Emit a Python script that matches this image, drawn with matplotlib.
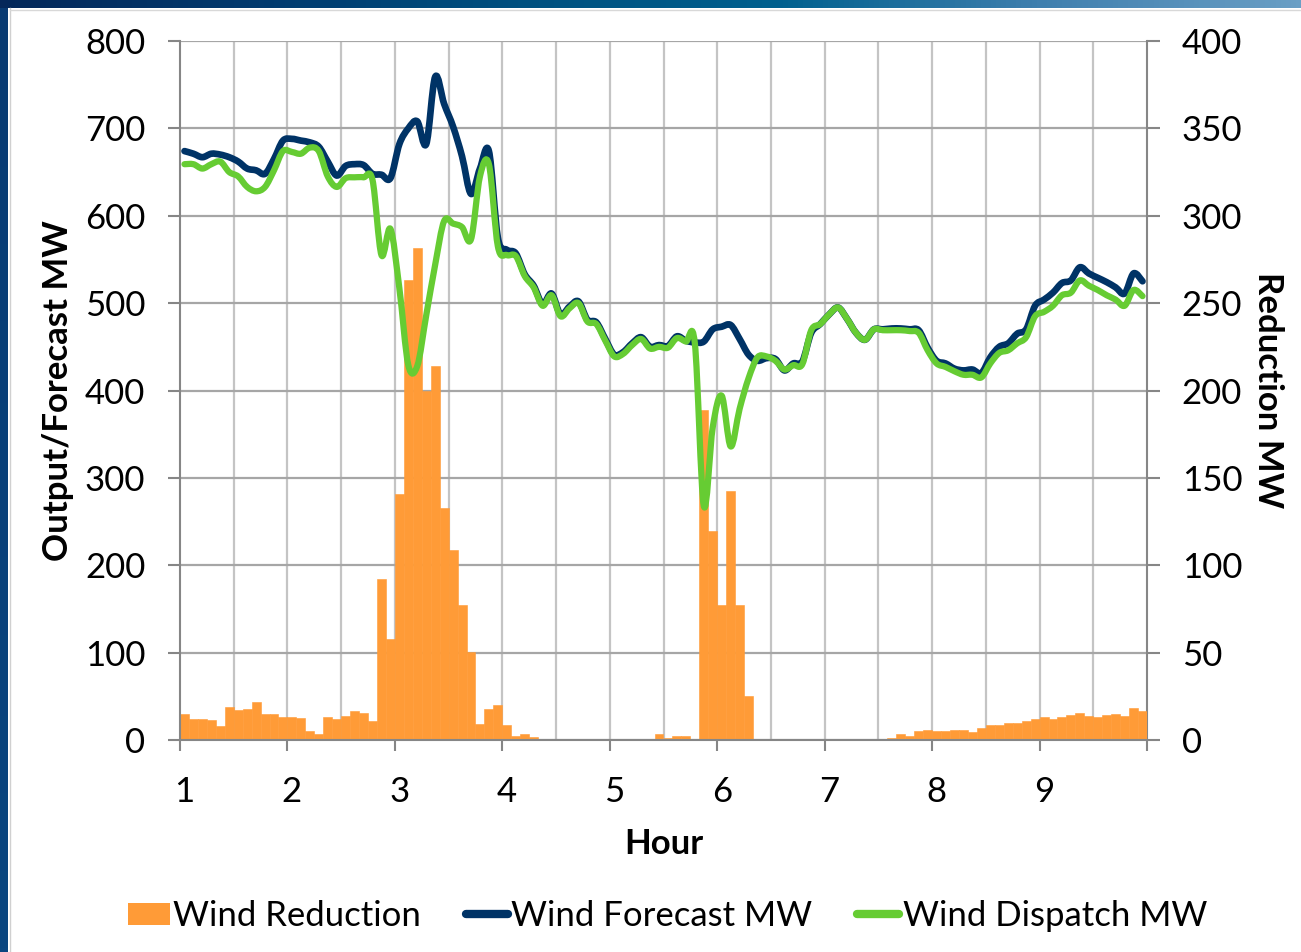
import numpy as np
import matplotlib
matplotlib.use("Agg")
import matplotlib.pyplot as plt
from matplotlib.patches import Patch, PathPatch
from matplotlib.path import Path
from matplotlib.lines import Line2D
from matplotlib.colors import LinearSegmentedColormap

plt.rcParams['font.family'] = ['Lato', 'DejaVu Sans']

# ---------------- data (5-minute intervals, hours 1..10) ----------------
hour_labels = ['1', '2', '3', '4', '5', '6', '7', '8', '9']
intervals_per_hour = 12

wind_reduction = [
    15.0, 12.1, 12.0, 11.6, 8.1, 18.9, 17.3, 17.9, 21.8, 15.0, 14.7, 12.9,
    13.1, 12.6, 5.0, 3.7, 13.1, 11.8, 13.9, 16.8, 15.2, 10.8, 92.2, 58.0,
    140.5, 263.5, 281.8, 200.0, 214.0, 133.0, 108.5, 77.0, 50.4, 9.2, 17.6, 20.2,
    8.4, 2.1, 3.2, 1.6, 0, 0, 0, 0, 0, 0, 0, 0.8,
    0.8, 0.5, 0, 0.8, 0.3, 3.4, 1.3, 2.5, 2.5, 0.8, 189.0, 119.5,
    77.5, 142.5, 77.0, 25.3, 0, 0, 0.8, 0, 0, 0, 0, 0,
    0, 0, 0.4, 0.4, 0.4, 0, 0, 1.3, 3.2, 2.4, 5.0, 6.0,
    5.3, 5.0, 5.5, 5.5, 4.5, 6.6, 8.4, 8.4, 9.5, 10.0, 10.8, 12.1,
    12.9, 12.3, 13.4, 14.4, 15.5, 13.7, 13.1, 14.4, 14.7, 13.9, 18.4, 16.5,
]

wind_forecast = [
    674, 671, 667, 671, 670, 667, 662, 654, 652, 648, 665, 686,
    688, 686, 684, 679, 662, 646, 657, 659, 658, 648, 647, 643,
    682, 700, 708, 682, 759, 728, 702, 668, 625, 654, 674, 575,
    561, 557, 533, 520, 499, 511, 487, 496, 502, 481, 478, 459,
    441, 444, 454, 461, 450, 452, 451, 462, 457, 455, 456, 470,
    473, 475, 459, 441, 434, 437, 436, 423, 431, 433, 466, 476,
    487, 495, 482, 466, 458, 470, 470, 471, 471, 470, 469, 449,
    434, 431, 425, 423, 424, 420, 438, 450, 454, 465, 470, 497,
    504, 512, 523, 526, 541, 534, 529, 524, 518, 511, 534, 525,
]

wind_dispatch = [
    659, 659, 654, 659, 662, 650, 645, 633, 628, 633, 652, 674,
    673, 671, 678, 674, 645, 633, 643, 644, 644, 641, 555, 585,
    517, 429, 428, 486, 544, 594, 591, 587, 573, 645, 659, 565,
    555, 554, 531, 518, 497, 509, 485, 494, 500, 479, 476, 457,
    439, 442, 452, 459, 448, 450, 449, 460, 456, 454, 268, 358,
    394, 336, 379, 414, 438, 439, 434, 424, 429, 430, 469, 476,
    487, 495, 482, 466, 458, 470, 469, 469, 469, 468, 466, 446,
    431, 427, 422, 418, 418, 415, 431, 443, 446, 454, 461, 485,
    490, 497, 509, 512, 526, 520, 515, 509, 504, 497, 515, 508,
]

# ---------------- styling ----------------
C_BAR = '#FF9B37'
C_FC = '#003366'
C_DSP = '#66CC33'
C_HGRID = '#A6A6A6'
C_VGRID = '#C4C4C4'
C_AXIS = '#868686'
FS = 25

W, H = 1301, 952
fig = plt.figure(figsize=(W / 100, H / 100), dpi=100)
fig.patch.set_facecolor('white')

# decorative frame: top gradient band and left band
top = fig.add_axes([0, 1 - 8 / H, 1, 8 / H])
cm_top = LinearSegmentedColormap.from_list('t', ['#05285A', '#023A6E', '#00507F', '#00608E', '#3F7FAE', '#6A9FC5'])
top.imshow(np.linspace(0, 1, 256)[None, :], aspect='auto', cmap=cm_top, extent=[0, 1, 0, 1])
top.axis('off')
left = fig.add_axes([0, 0, 8 / W, 1 - 8 / H])
cm_left = LinearSegmentedColormap.from_list('l', ['#083A72', '#0A4680'])
left.imshow(np.linspace(0, 1, 256)[:, None], aspect='auto', cmap=cm_left, extent=[0, 1, 0, 1])
left.axis('off')
fig.add_artist(Line2D([9.5 / W, 9.5 / W], [0, 1 - 8 / H], color='#D0D0D0', lw=1))
fig.add_artist(Line2D([9.5 / W, 1], [1 - 9.5 / H, 1 - 9.5 / H], color='#D8D8D8', lw=1))

# axes
x0, x1 = 180 / W, 1147 / W
y0, y1 = 1 - 740 / H, 1 - 41 / H
ax = fig.add_axes([x0, y0, x1 - x0, y1 - y0])
ax2 = ax.twinx()
ax.set_zorder(3)
ax.patch.set_visible(False)

n = len(wind_reduction)
xc = 1 + (np.arange(n) + 0.5) / intervals_per_hour


def smooth_path(x, y):
    """Excel-style smoothed line: cubic Bezier segments through every data point."""
    p = np.column_stack([x, y]).astype(float)
    pp = np.vstack([p[0], p, p[-1]])
    verts = [p[0]]
    codes = [Path.MOVETO]
    for i in range(len(p) - 1):
        c1 = pp[i + 1] + (pp[i + 2] - pp[i]) / 6.0
        c2 = pp[i + 2] - (pp[i + 3] - pp[i + 1]) / 6.0
        verts += [c1, c2, pp[i + 2]]
        codes += [Path.CURVE4] * 3
    return Path(verts, codes)


# bars (secondary axis)
ax2.bar(xc, wind_reduction, width=1 / intervals_per_hour, color=C_BAR,
        edgecolor=C_BAR, linewidth=0.4, zorder=3)
ax2.set_ylim(0, 400)
ax2.set_yticks(np.arange(0, 401, 50))
ax2.yaxis.grid(True, color=C_HGRID, lw=1.6, zorder=0)
ax2.set_axisbelow(True)
for h in np.arange(1.5, 10, 0.5):
    ax2.axvline(h, color=C_VGRID, lw=1.6, zorder=0.5)

# lines (primary axis), smoothed like the original
ax.add_patch(PathPatch(smooth_path(xc, wind_forecast), fill=False, edgecolor=C_FC,
                       lw=4.8, joinstyle='round', capstyle='round', zorder=4))
ax.add_patch(PathPatch(smooth_path(xc, wind_dispatch), fill=False, edgecolor=C_DSP,
                       lw=4.5, joinstyle='round', capstyle='round', zorder=5))
ax.set_ylim(0, 800)
ax.set_yticks(np.arange(0, 801, 100))
ax.set_xlim(1, 10)

# x ticks: marks at hour boundaries, labels at first interval of each hour
ax.set_xticks(np.arange(1, 11))
ax.set_xticklabels([''] * 10)
ax.set_xticks(np.arange(1, 10) + 0.5 / intervals_per_hour, minor=True)
ax.set_xticklabels(hour_labels, minor=True)
ax.tick_params(axis='x', which='major', length=8, width=1.5, color=C_AXIS, direction='out')
ax.tick_params(axis='x', which='minor', length=0, pad=26, labelsize=FS)
ax.tick_params(axis='y', length=9, width=1.5, color=C_AXIS, pad=16, labelsize=FS)
ax2.tick_params(axis='y', length=9, width=1.5, color=C_AXIS, pad=16, labelsize=FS)

for s in ['top', 'right']:
    ax.spines[s].set_visible(False)
for s in ['left', 'bottom']:
    ax.spines[s].set_color(C_AXIS)
    ax.spines[s].set_linewidth(1.5)
for s in ['top', 'left', 'bottom']:
    ax2.spines[s].set_visible(False)
ax2.spines['right'].set_color(C_AXIS)
ax2.spines['right'].set_linewidth(1.5)

ax.set_xlabel('Hour', fontsize=FS, fontweight='bold', labelpad=14)
ax.set_ylabel('Output/Forecast MW', fontsize=FS, fontweight='bold', labelpad=8)
ax2.set_ylabel('Reduction MW', fontsize=FS, fontweight='bold', rotation=-90, labelpad=30)

handles = [
    Patch(facecolor=C_BAR, edgecolor='none', label='Wind Reduction'),
    Line2D([], [], color=C_FC, lw=6, solid_capstyle='round', label='Wind Forecast MW'),
    Line2D([], [], color=C_DSP, lw=6, solid_capstyle='round', label='Wind Dispatch MW'),
]
fig.legend(handles=handles, loc='center', bbox_to_anchor=(0.513, 1 - 916 / H), ncol=3,
           frameon=False, fontsize=FS, handlelength=1.2, handleheight=0.6,
           handletextpad=0.1, columnspacing=1.3, borderaxespad=0)

fig.savefig('out.png', dpi=100, facecolor='white')
